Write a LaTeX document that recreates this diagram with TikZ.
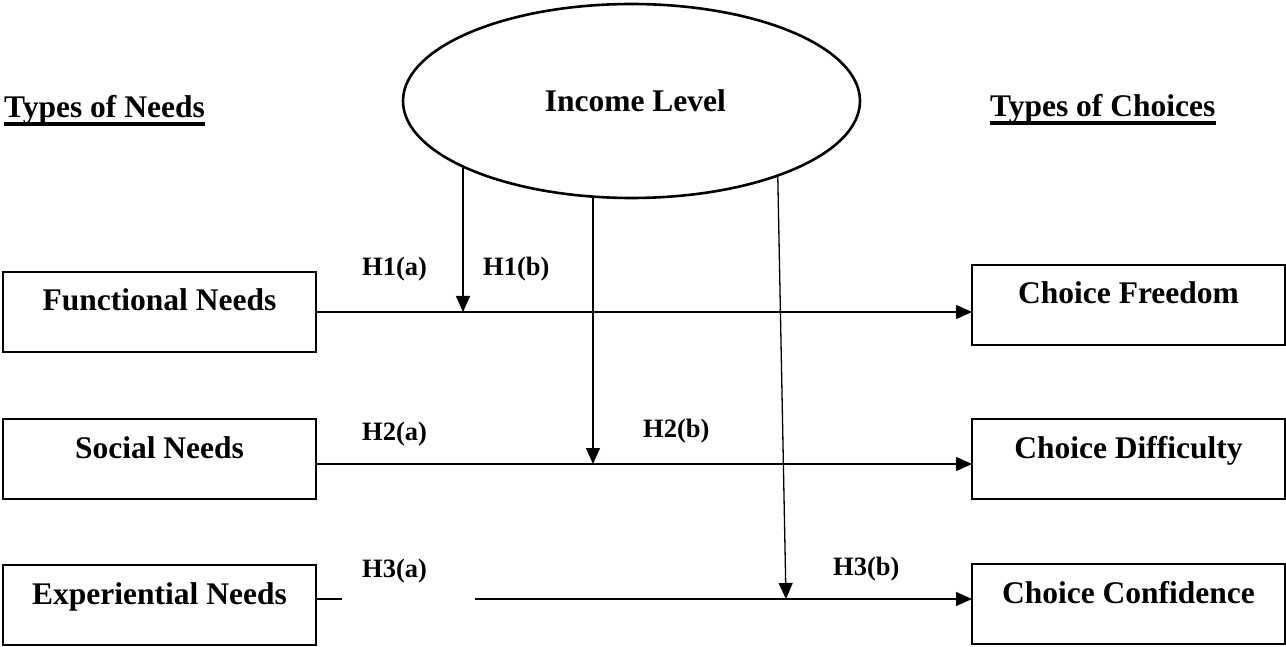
\documentclass[tikz,border=0pt]{standalone}
\usepackage{fontspec}
\setmainfont{Liberation Serif}
\usetikzlibrary{shapes.geometric,arrows.meta}
\begin{document}
\begin{tikzpicture}[x=1pt,y=-1pt,
  box/.style={draw,line width=1.6pt,inner sep=0pt,outer sep=0pt,
    minimum width=313pt,text height=39pt,text depth=41pt,anchor=north,
    font=\fontsize{31.5}{36}\selectfont\bfseries},
  hlabel/.style={anchor=base west,inner sep=0pt,font=\fontsize{26.5}{30}\selectfont\bfseries},
  title/.style={anchor=base west,inner sep=0pt,font=\fontsize{31.5}{36}\selectfont\bfseries},
  uline/.style={line width=3.2pt},
  conn/.style={line width=1.3pt},
  arr/.style={line width=1.3pt,-{Triangle[length=16pt,width=14pt]}}]
\useasboundingbox (0,0) rectangle (1286,647);
% ellipse
\node[ellipse,draw,line width=2.6pt,inner sep=0pt,outer sep=0pt,
  minimum width=457pt,minimum height=194pt,text height=22pt,text depth=0pt,
  font=\fontsize{31.5}{36}\selectfont\bfseries] (inc) at (631.5,101) {\ Income Level};
% titles
\node[title] (tn) at (4,118) {Types of Needs\ };
\node[title] (tc) at (990,117) {Types of Choices};
\draw[uline] ([yshift=-6pt]tn.base west) -- ([yshift=-6pt]tn.base east);
\draw[uline] ([yshift=-6pt]tc.base west) -- ([yshift=-6pt]tc.base east);
% boxes
\node[box] (fn) at (159.5,272) {Functional Needs};
\node[box] (sn) at (159.5,419) {Social Needs};
\node[box] (en) at (159.5,565) {Experiential Needs};
\node[box] (cf) at (1128.5,265) {Choice Freedom};
\node[box] (cd) at (1128.5,419) {Choice Difficulty};
\node[box] (cc) at (1128.5,564) {Choice Confidence};
% moderation points
\coordinate (m1) at (463,312);
\coordinate (m2) at (593,464);
\coordinate (m3) at (786,599);
\coordinate (g1) at (342,599);
\coordinate (g2) at (475,599);
% horizontal connectors
\draw[arr] (fn.east) -- (fn.east -| cf.west);
\draw[arr] ([yshift=-5pt]sn.east) -- ([yshift=-5pt]sn.east -| cd.west);
\draw[conn] ([yshift=6pt]en.east) -- (g1);
\draw[arr] (g2) -- (g2 -| cc.west);
% moderator arrows
\draw[arr] (m1 |- inc.201.24) -- (m1);
\draw[arr] (m2 |- inc.248.06) -- (m2);
\draw[arr] (inc.333.08) -- (m3);
% hypothesis labels
\node[hlabel] (h1a) at (362,276) {H1(a)};
\node[hlabel] (h1b) at (483,276) {H1(b)};
\node[hlabel] (h2a) at (362,440) {H2(a)};
\node[hlabel] (h2b) at (643,437) {H2(b)};
\node[hlabel] (h3a) at (362,577) {H3(a)};
\node[hlabel] (h3b) at (833,575) {H3(b)};
\end{tikzpicture}
\end{document}
